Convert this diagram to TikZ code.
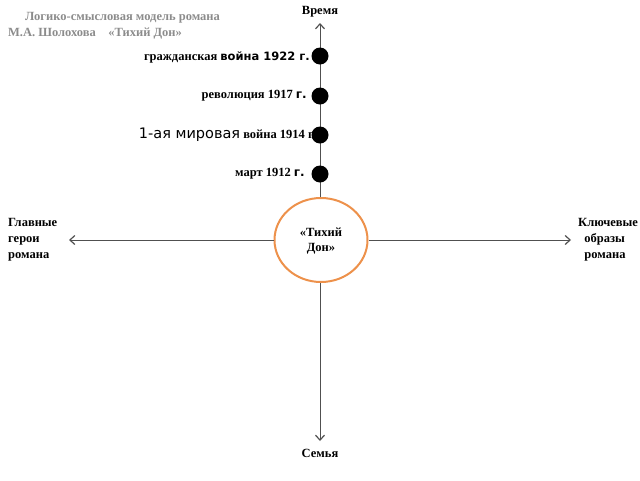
\documentclass[tikz,border=0pt]{standalone}
\usepackage{fontspec}
\setmainfont{Liberation Serif}
\newfontfamily\sansf{DejaVu Sans}
\usetikzlibrary{arrows.meta,shapes.geometric}
\definecolor{axisgray}{RGB}{80,80,80}
\definecolor{ringorange}{RGB}{237,145,75}
\definecolor{titlegray}{RGB}{140,140,140}
\tikzset{
  axis/.style={draw=axisgray, line width=1pt, -{Straight Barb[length=5pt,width=9pt,line width=1.2pt]}},
  evt/.style={circle, fill=black, minimum size=17pt, inner sep=0pt},
  lbl/.style={font=\bfseries\fontsize{12.5}{15}\selectfont, inner sep=0pt},
  side/.style={font=\bfseries\fontsize{12.5}{16}\selectfont, align=left, inner sep=0pt},
}
\begin{document}
\begin{tikzpicture}[x=1pt,y=-1pt]
\useasboundingbox (0,0) rectangle (640,480);
% title
\node[lbl, text=titlegray, anchor=west] (t1) at (25,18) {Логико-смысловая модель романа};
\node[lbl, text=titlegray, anchor=west] (t2) at (8,34) {М.А. Шолохова\quad «Тихий Дон»};
% center ellipse
\node[ellipse, draw=ringorange, line width=2pt, minimum width=93pt, minimum height=84pt, inner sep=0pt] (c) at (321,240) {};
\node[lbl, align=center] (ct) at (321,241) {«Тихий\\Дон»};
% axis end points
\node[lbl] (vr) at (320,12) {Время};
\node[lbl] (sem) at (320,453) {Семья};
\coordinate (top) at (320,23);
\coordinate (bot) at (320,441);
\coordinate (lft) at (69,240);
\coordinate (rgt) at (571,240);
\draw[axis] (c.north -| top) -- (top);
\draw[axis] (c.south -| bot) -- (bot);
\draw[axis] (c.west) -- (lft);
\draw[axis] (c.east) -- (rgt);
% event labels
\node[lbl, anchor=east] (l1) at (310,57) {гражданская {\sansf\fontsize{11.5}{14}\selectfont война 1922 г.}};
\node[lbl, anchor=east] (l2) at (307,96) {революция 1917 {\sansf\fontsize{12}{14}\selectfont г.}};
\node[lbl, anchor=east] (l3) at (314,135) {{\sansf\mdseries\fontsize{14.5}{16}\selectfont 1-ая мировая} война 1914 г};
\node[lbl, anchor=east] (l4) at (305,174) {март 1912 {\sansf\fontsize{12}{14}\selectfont г.}};
% events
\node[evt] (e1) at (320,56) {};
\node[evt] (e2) at (320,96) {};
\node[evt] (e3) at (320,135) {};
\node[evt] (e4) at (320,174) {};
% side labels
\node[side, anchor=north west] (gl) at (8,218) {Главные\\герои\\романа};
\node[side, anchor=north west] (kl) at (578,218) {Ключевые\\\ \ образы\\\ \ романа};
\end{tikzpicture}
\end{document}
